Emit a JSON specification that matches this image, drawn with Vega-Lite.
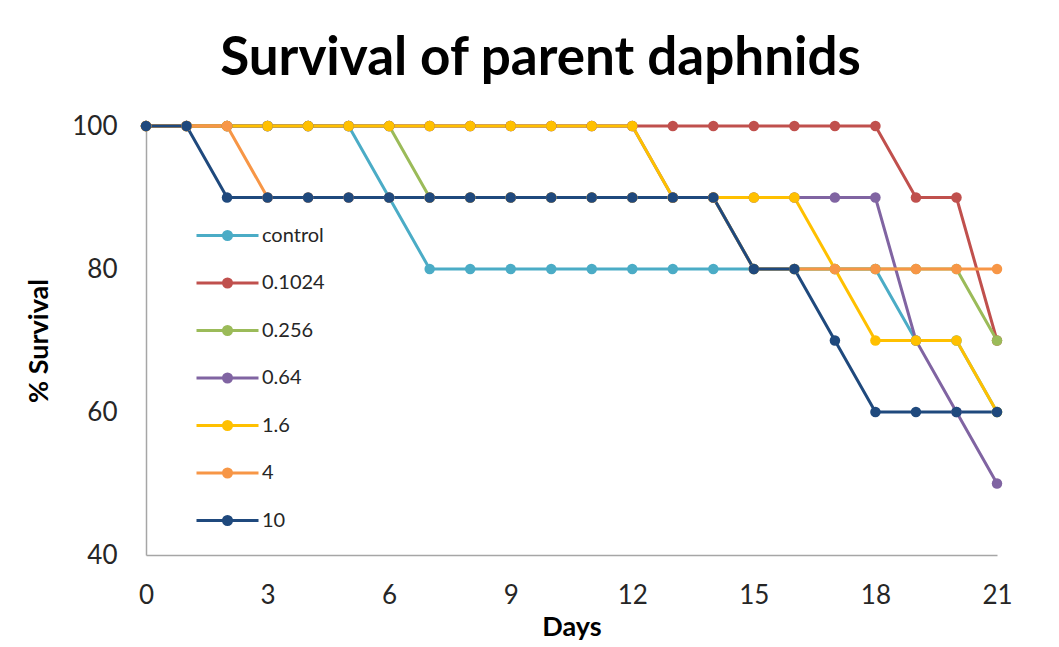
{
  "$schema": "https://vega.github.io/schema/vega-lite/v6.json",
  "autosize": "none",
  "width": 851,
  "height": 429,
  "padding": {"left": 146, "top": 126, "right": 62, "bottom": 92},
  "background": "white",
  "title": {
    "text": "Survival of parent daphnids",
    "font": "Lato",
    "fontSize": 53,
    "fontWeight": "bold",
    "color": "#000000",
    "anchor": "middle",
    "dx": -31,
    "baseline": "alphabetic",
    "offset": -15
  },
  "data": {
    "values": [
      {"day": 0, "series": "control", "survival": 100},
      {"day": 1, "series": "control", "survival": 100},
      {"day": 2, "series": "control", "survival": 100},
      {"day": 3, "series": "control", "survival": 100},
      {"day": 4, "series": "control", "survival": 100},
      {"day": 5, "series": "control", "survival": 100},
      {"day": 6, "series": "control", "survival": 90},
      {"day": 7, "series": "control", "survival": 80},
      {"day": 8, "series": "control", "survival": 80},
      {"day": 9, "series": "control", "survival": 80},
      {"day": 10, "series": "control", "survival": 80},
      {"day": 11, "series": "control", "survival": 80},
      {"day": 12, "series": "control", "survival": 80},
      {"day": 13, "series": "control", "survival": 80},
      {"day": 14, "series": "control", "survival": 80},
      {"day": 15, "series": "control", "survival": 80},
      {"day": 16, "series": "control", "survival": 80},
      {"day": 17, "series": "control", "survival": 80},
      {"day": 18, "series": "control", "survival": 80},
      {"day": 19, "series": "control", "survival": 70},
      {"day": 20, "series": "control", "survival": 70},
      {"day": 21, "series": "control", "survival": 60},

      {"day": 0, "series": "0.1024", "survival": 100},
      {"day": 1, "series": "0.1024", "survival": 100},
      {"day": 2, "series": "0.1024", "survival": 100},
      {"day": 3, "series": "0.1024", "survival": 100},
      {"day": 4, "series": "0.1024", "survival": 100},
      {"day": 5, "series": "0.1024", "survival": 100},
      {"day": 6, "series": "0.1024", "survival": 100},
      {"day": 7, "series": "0.1024", "survival": 100},
      {"day": 8, "series": "0.1024", "survival": 100},
      {"day": 9, "series": "0.1024", "survival": 100},
      {"day": 10, "series": "0.1024", "survival": 100},
      {"day": 11, "series": "0.1024", "survival": 100},
      {"day": 12, "series": "0.1024", "survival": 100},
      {"day": 13, "series": "0.1024", "survival": 100},
      {"day": 14, "series": "0.1024", "survival": 100},
      {"day": 15, "series": "0.1024", "survival": 100},
      {"day": 16, "series": "0.1024", "survival": 100},
      {"day": 17, "series": "0.1024", "survival": 100},
      {"day": 18, "series": "0.1024", "survival": 100},
      {"day": 19, "series": "0.1024", "survival": 90},
      {"day": 20, "series": "0.1024", "survival": 90},
      {"day": 21, "series": "0.1024", "survival": 70},

      {"day": 0, "series": "0.256", "survival": 100},
      {"day": 1, "series": "0.256", "survival": 100},
      {"day": 2, "series": "0.256", "survival": 100},
      {"day": 3, "series": "0.256", "survival": 100},
      {"day": 4, "series": "0.256", "survival": 100},
      {"day": 5, "series": "0.256", "survival": 100},
      {"day": 6, "series": "0.256", "survival": 100},
      {"day": 7, "series": "0.256", "survival": 90},
      {"day": 8, "series": "0.256", "survival": 90},
      {"day": 9, "series": "0.256", "survival": 90},
      {"day": 10, "series": "0.256", "survival": 90},
      {"day": 11, "series": "0.256", "survival": 90},
      {"day": 12, "series": "0.256", "survival": 90},
      {"day": 13, "series": "0.256", "survival": 90},
      {"day": 14, "series": "0.256", "survival": 90},
      {"day": 15, "series": "0.256", "survival": 80},
      {"day": 16, "series": "0.256", "survival": 80},
      {"day": 17, "series": "0.256", "survival": 80},
      {"day": 18, "series": "0.256", "survival": 80},
      {"day": 19, "series": "0.256", "survival": 80},
      {"day": 20, "series": "0.256", "survival": 80},
      {"day": 21, "series": "0.256", "survival": 70},

      {"day": 0, "series": "0.64", "survival": 100},
      {"day": 1, "series": "0.64", "survival": 100},
      {"day": 2, "series": "0.64", "survival": 100},
      {"day": 3, "series": "0.64", "survival": 100},
      {"day": 4, "series": "0.64", "survival": 100},
      {"day": 5, "series": "0.64", "survival": 100},
      {"day": 6, "series": "0.64", "survival": 100},
      {"day": 7, "series": "0.64", "survival": 100},
      {"day": 8, "series": "0.64", "survival": 100},
      {"day": 9, "series": "0.64", "survival": 100},
      {"day": 10, "series": "0.64", "survival": 100},
      {"day": 11, "series": "0.64", "survival": 100},
      {"day": 12, "series": "0.64", "survival": 100},
      {"day": 13, "series": "0.64", "survival": 90},
      {"day": 14, "series": "0.64", "survival": 90},
      {"day": 15, "series": "0.64", "survival": 90},
      {"day": 16, "series": "0.64", "survival": 90},
      {"day": 17, "series": "0.64", "survival": 90},
      {"day": 18, "series": "0.64", "survival": 90},
      {"day": 19, "series": "0.64", "survival": 70},
      {"day": 20, "series": "0.64", "survival": 60},
      {"day": 21, "series": "0.64", "survival": 50},

      {"day": 0, "series": "1.6", "survival": 100},
      {"day": 1, "series": "1.6", "survival": 100},
      {"day": 2, "series": "1.6", "survival": 100},
      {"day": 3, "series": "1.6", "survival": 100},
      {"day": 4, "series": "1.6", "survival": 100},
      {"day": 5, "series": "1.6", "survival": 100},
      {"day": 6, "series": "1.6", "survival": 100},
      {"day": 7, "series": "1.6", "survival": 100},
      {"day": 8, "series": "1.6", "survival": 100},
      {"day": 9, "series": "1.6", "survival": 100},
      {"day": 10, "series": "1.6", "survival": 100},
      {"day": 11, "series": "1.6", "survival": 100},
      {"day": 12, "series": "1.6", "survival": 100},
      {"day": 13, "series": "1.6", "survival": 90},
      {"day": 14, "series": "1.6", "survival": 90},
      {"day": 15, "series": "1.6", "survival": 90},
      {"day": 16, "series": "1.6", "survival": 90},
      {"day": 17, "series": "1.6", "survival": 80},
      {"day": 18, "series": "1.6", "survival": 70},
      {"day": 19, "series": "1.6", "survival": 70},
      {"day": 20, "series": "1.6", "survival": 70},
      {"day": 21, "series": "1.6", "survival": 60},

      {"day": 0, "series": "4", "survival": 100},
      {"day": 1, "series": "4", "survival": 100},
      {"day": 2, "series": "4", "survival": 100},
      {"day": 3, "series": "4", "survival": 90},
      {"day": 4, "series": "4", "survival": 90},
      {"day": 5, "series": "4", "survival": 90},
      {"day": 6, "series": "4", "survival": 90},
      {"day": 7, "series": "4", "survival": 90},
      {"day": 8, "series": "4", "survival": 90},
      {"day": 9, "series": "4", "survival": 90},
      {"day": 10, "series": "4", "survival": 90},
      {"day": 11, "series": "4", "survival": 90},
      {"day": 12, "series": "4", "survival": 90},
      {"day": 13, "series": "4", "survival": 90},
      {"day": 14, "series": "4", "survival": 90},
      {"day": 15, "series": "4", "survival": 80},
      {"day": 16, "series": "4", "survival": 80},
      {"day": 17, "series": "4", "survival": 80},
      {"day": 18, "series": "4", "survival": 80},
      {"day": 19, "series": "4", "survival": 80},
      {"day": 20, "series": "4", "survival": 80},
      {"day": 21, "series": "4", "survival": 80},

      {"day": 0, "series": "10", "survival": 100},
      {"day": 1, "series": "10", "survival": 100},
      {"day": 2, "series": "10", "survival": 90},
      {"day": 3, "series": "10", "survival": 90},
      {"day": 4, "series": "10", "survival": 90},
      {"day": 5, "series": "10", "survival": 90},
      {"day": 6, "series": "10", "survival": 90},
      {"day": 7, "series": "10", "survival": 90},
      {"day": 8, "series": "10", "survival": 90},
      {"day": 9, "series": "10", "survival": 90},
      {"day": 10, "series": "10", "survival": 90},
      {"day": 11, "series": "10", "survival": 90},
      {"day": 12, "series": "10", "survival": 90},
      {"day": 13, "series": "10", "survival": 90},
      {"day": 14, "series": "10", "survival": 90},
      {"day": 15, "series": "10", "survival": 80},
      {"day": 16, "series": "10", "survival": 80},
      {"day": 17, "series": "10", "survival": 70},
      {"day": 18, "series": "10", "survival": 60},
      {"day": 19, "series": "10", "survival": 60},
      {"day": 20, "series": "10", "survival": 60},
      {"day": 21, "series": "10", "survival": 60}
    ]
  },
  "mark": {
    "type": "line",
    "strokeWidth": 3,
    "point": {"filled": true, "size": 110, "opacity": 1}
  },
  "encoding": {
    "x": {
      "field": "day",
      "type": "quantitative",
      "scale": {"domain": [0, 21], "nice": false, "zero": false},
      "axis": {
        "title": "Days",
        "values": [0, 3, 6, 9, 12, 15, 18, 21],
        "grid": false,
        "ticks": false,
        "labelFlush": false,
        "labelPadding": 27,
        "titlePadding": 6
      }
    },
    "y": {
      "field": "survival",
      "type": "quantitative",
      "scale": {"domain": [40, 100], "nice": false, "zero": false},
      "axis": {
        "title": "% Survival",
        "values": [40, 60, 80, 100],
        "grid": false,
        "ticks": false,
        "labelFlush": false,
        "labelPadding": 29,
        "titlePadding": 18
      }
    },
    "color": {
      "field": "series",
      "type": "nominal",
      "sort": null,
      "scale": {
        "domain": ["control", "0.1024", "0.256", "0.64", "1.6", "4", "10"],
        "range": ["#4BACC6", "#C0504D", "#9BBB59", "#8064A2", "#FFC000", "#F79646", "#1F497D"]
      },
      "legend": {
        "title": null,
        "orient": "none",
        "legendX": 49,
        "legendY": 77,
        "direction": "vertical",
        "symbolType": "M-1,0H1M-0.13,0A0.13,0.13,0,1,0,0.13,0A0.13,0.13,0,1,0,-0.13,0Z",
        "symbolSize": 3844,
        "symbolStrokeWidth": 3,
        "labelFont": "Lato",
        "labelFontSize": 20,
        "labelColor": "#262626",
        "labelOffset": 2,
        "rowPadding": 4.5,
        "padding": 0,
        "encode": {
          "symbols": {
            "update": {
              "fill": {"scale": "color", "field": "value"},
              "stroke": {"scale": "color", "field": "value"},
              "opacity": {"value": 1}
            }
          }
        }
      }
    }
  },
  "config": {
    "view": {"stroke": null},
    "axis": {
      "labelFont": "Lato",
      "labelFontSize": 26,
      "labelColor": "#262626",
      "titleFont": "Lato",
      "titleFontSize": 27,
      "titleFontWeight": "bold",
      "titleColor": "#000000",
      "domainColor": "#A6A6A6",
      "domainWidth": 1.5
    }
  }
}
